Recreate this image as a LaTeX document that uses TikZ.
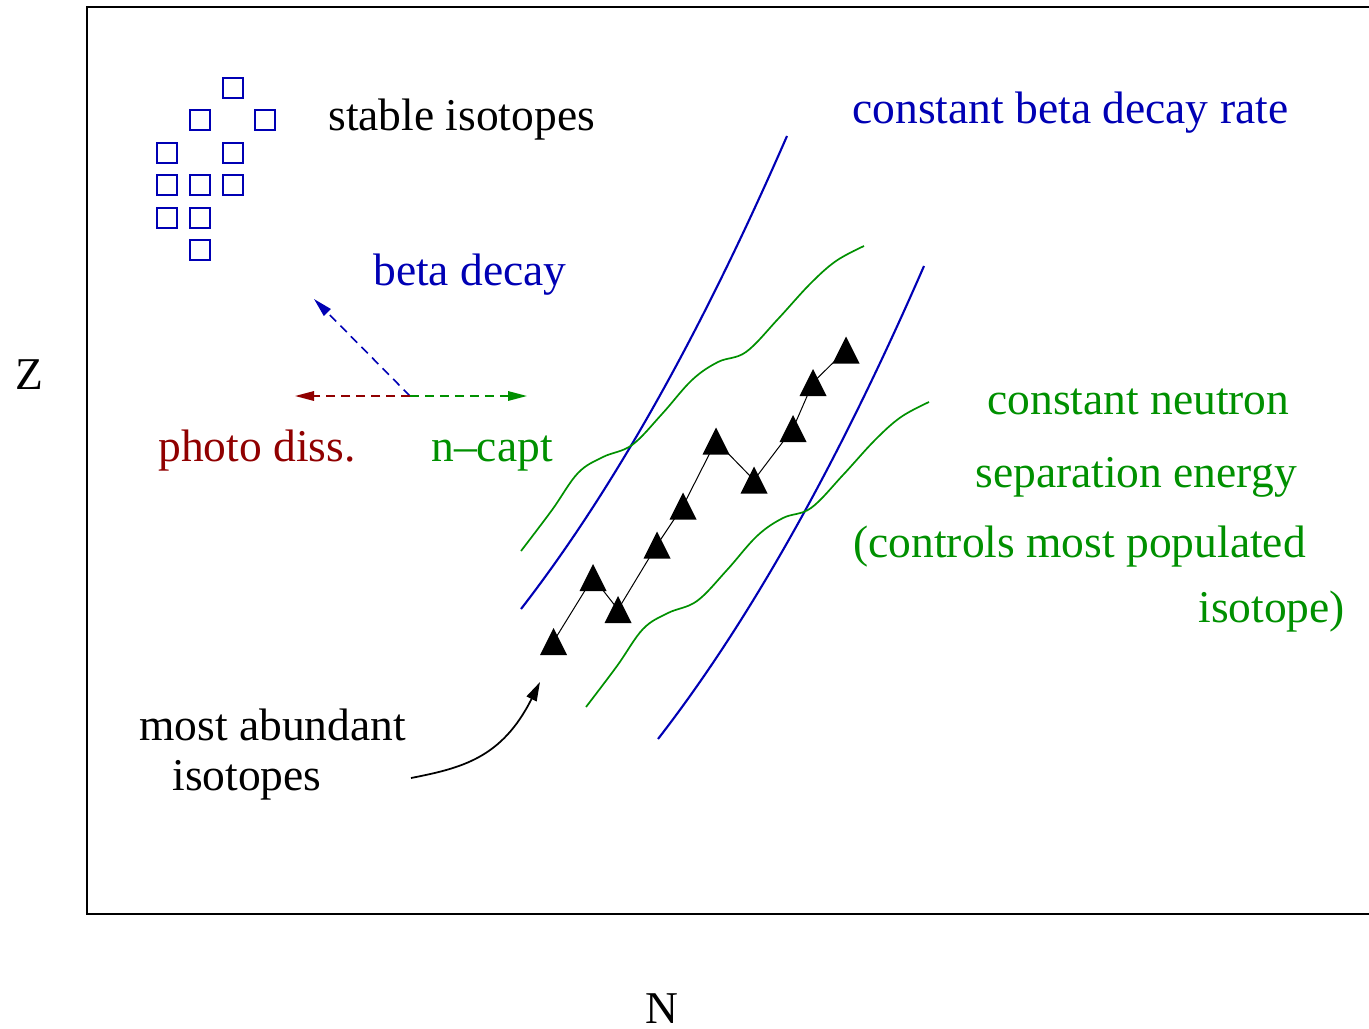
\documentclass[tikz,border=0pt]{standalone}
\usepackage{fontspec}
\setmainfont{Liberation Serif}
\usetikzlibrary{arrows.meta}
\definecolor{xblue}{RGB}{0,0,180}
\definecolor{xgreen}{RGB}{0,144,0}
\definecolor{xred}{RGB}{144,0,0}
\tikzset{
  lbl/.style={anchor=base west, inner sep=0pt, font=\fontsize{25.9}{30}\selectfont},
  frameline/.style={line width=0.04cm, black},
  isobox/.style={draw=xblue, line width=0.022cm, minimum size=0.4cm, inner sep=0pt},
  betaline/.style={xblue, line width=0.042cm},
  snline/.style={xgreen, line width=0.034cm},
  reaction/.style={line width=0.032cm, dash pattern=on 0.18cm off 0.12cm, -{Triangle[length=0.38cm,width=0.19cm]}},
  pathline/.style={black, line width=0.02cm},
  tri/.style={fill=black}
}
\begin{document}
\begin{tikzpicture}[x=0.02cm, y=-0.02cm]
\useasboundingbox (0,0) rectangle (1369,1028);
% frame (right side lies outside the picture)
\coordinate (ftr) at (1369,7);
\coordinate (ftl) at (87,7);
\coordinate (fbl) at (87,914);
\coordinate (fbr) at (1369,914);
\draw[frameline, line join=miter] (ftr) -- (ftl) -- (fbl) -- (fbr);

% axis labels
\node[lbl] (zlab) at (15,389) {Z};
\node[lbl] (nlab) at (645,1023) {N};

% stable isotopes
\foreach \i/\x/\y in {1/233/88, 2/200/120, 3/265/120, 4/167/153, 5/233/153, 6/167/185, 7/200/185, 8/233/185, 9/167/218, 10/200/218, 11/200/250}
  \node[isobox] (s\i) at (\x,\y) {};
\node[lbl] (stable) at (328,130) {stable isotopes};

% reaction arrows
\coordinate (orig) at (410,396);
\coordinate (betaend) at (314,299);
\coordinate (photoend) at (295,396);
\coordinate (captend) at (527,396);
\draw[reaction, xblue] (orig) -- (betaend);
\draw[reaction, xred] (orig) -- (photoend);
\draw[reaction, xgreen] (orig) -- (captend);
\node[lbl, text=xblue] (betalab) at (373,285) {beta decay};
\node[lbl, text=xred] (photolab) at (158,461) {photo diss.};
\node[lbl, text=xgreen] (captlab) at (431,461) {n--capt};

% constant beta decay rate lines
\foreach \dx/\dy/\n in {0/0/1, 137/130/2} {
  \begin{scope}[shift={(\dx,\dy)}]
    \coordinate (bl\n a) at (521,609);
    \coordinate (bl\n b) at (787,136);
    \draw[betaline] (bl\n a) .. controls (614,489) and (702,331) .. (bl\n b);
  \end{scope}
}
\node[lbl, text=xblue] (betarate) at (852,123) {constant beta decay rate};

% constant neutron separation energy lines
\foreach \dx/\dy in {0/0, 65/156} {
  \begin{scope}[shift={(\dx,\dy)}]
    \draw[snline] plot[smooth, tension=0.6] coordinates {(521,551) (552,510) (578,473) (603,457) (632,445) (662,414) (692,380) (718,362) (746,352) (778,319) (810,284) (836,261) (864,246)};
  \end{scope}
}
\node[lbl, text=xgreen] (sn1) at (987,414) {constant neutron};
\node[lbl, text=xgreen] (sn2) at (975,487) {separation energy};
\node[lbl, text=xgreen] (sn3) at (853,557) {(controls most populated};
\node[lbl, text=xgreen] (sn4) at (1198,622) {isotope)};

% r-process path
\foreach \i/\x/\y in {1/553.5/641.5, 2/593/577.5, 3/618/609.5, 4/657/545, 5/683/506, 6/716/441, 7/754/480, 8/793/428.5, 9/813/382.5, 10/846/350}
  \coordinate (t\i) at (\x,\y);
\draw[pathline] (t1) -- (t2) -- (t3) -- (t4) -- (t5) -- (t6) -- (t7) -- (t8) -- (t9) -- (t10);
\foreach \i in {1,...,10}
  \fill[tri] (t\i) ++(-13.5,13.5) -- ++(27,0) -- ++(-13.5,-27) -- cycle;

% most abundant isotopes
\node[lbl] (ab1) at (139,740) {most abundant};
\node[lbl] (ab2) at (172,790) {isotopes};
\coordinate (abstart) at (411,778);
\coordinate (abend) at (540,682);
\draw[line width=0.035cm, -{Triangle[length=0.38cm,width=0.22cm]}] (abstart) .. controls (462,768) and (502,758) .. (abend);
\end{tikzpicture}
\end{document}
